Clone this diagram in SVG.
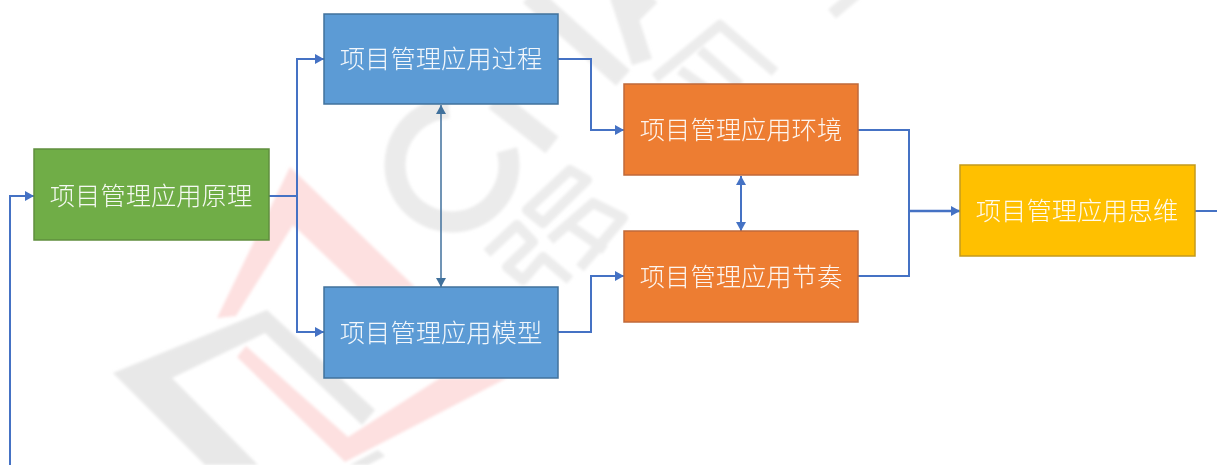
<svg xmlns="http://www.w3.org/2000/svg" width="1217" height="465" viewBox="0 0 1217 465">
<style>
.box{stroke-width:1.5}
.lbl{font-family:"Noto Sans CJK SC","Noto Sans CJK JP",sans-serif;font-size:25.3px;font-weight:300;fill:#fff;text-anchor:middle;dominant-baseline:central;opacity:.93}
.c{fill:none;stroke:#4472c4;stroke-width:2}
.gf{fill:#e8e8e8}
.rf{fill:#fde0e0}
.wg{fill:none;stroke:#ebebeb;stroke-width:21}
.wt{fill:none;stroke:#ececec;stroke-width:10;stroke-linejoin:round}
</style>
<defs>
<marker id="a" markerWidth="11" markerHeight="11" refX="9" refY="5" orient="auto-start-reverse" markerUnits="userSpaceOnUse"><path d="M0 0L9 5L0 10z" fill="#4472c4"/></marker>
<marker id="b" markerWidth="11" markerHeight="11" refX="9" refY="5" orient="auto-start-reverse" markerUnits="userSpaceOnUse"><path d="M0 0L9 5L0 10z" fill="#41719c"/></marker>
<filter id="s" x="-5%" y="-5%" width="110%" height="110%"><feGaussianBlur stdDeviation="1.4"/></filter>
<filter id="t" filterUnits="userSpaceOnUse" x="0" y="0" width="1217" height="465"><feGaussianBlur stdDeviation="0.45"/></filter>
</defs>
<g id="watermark" filter="url(#s)">
<polygon class="rf" points="290,167 217,318 236,316 293,225 358,287 415,287"/>
<polygon class="rf" points="237,357 246,346 348,437 440,378 507,378 345,462"/>
<polygon class="gf" points="113,373 267,310 375,410 362,425 265,333 172,378 258,465 205,465"/>
<polygon class="gf" points="378,450 385,456 368,465 350,465"/>
<path class="wg" d="M507 150A57 57 0 1 1 449 108"/>
<path class="wg" d="M530 -5L623 78M495 100L552 145"/>
<path class="wg" d="M620 -5L642 62M650 -5L625 20"/>
<path class="wt" d="M655 78L720 25L775 72M680 70L715 95M700 50L740 85"/>
<path class="wt" style="stroke-width:12" d="M832 14L856 -6"/>
<path class="wt" d="M527 210L570 170L587 180L543 223Z"/>
<path class="wt" d="M550 240L593 203L623 218L580 268M565 222L605 250"/>
<path class="wt" d="M487 253L517 225L533 242L507 267L523 280L543 257L570 280"/>
</g>
<g id="connectors" filter="url(#t)">
<path class="c" d="M10 465V196H34" marker-end="url(#a)"/>
<path class="c" d="M269 196H297V59H324" marker-end="url(#a)"/>
<path class="c" d="M297 196V332H324" marker-end="url(#a)"/>
<path class="c" d="M558 59H591V130H624" marker-end="url(#a)"/>
<path class="c" d="M558 332H591V276H624" marker-end="url(#a)"/>
<path class="c" d="M858 130H909V211"/>
<path class="c" d="M858 276H909V211"/>
<path class="c" style="stroke-width:2.5" d="M909 211H960" marker-end="url(#a)"/>
<path class="c" d="M1195 211H1217"/>
<path class="c" style="stroke:#41719c;stroke-width:1.5" d="M441 105V287" marker-start="url(#b)" marker-end="url(#b)"/>
<path class="c" d="M741 176V231" marker-start="url(#a)" marker-end="url(#a)"/>
</g>
<g id="n-yuanli" filter="url(#t)"><rect class="box" x="34" y="149" width="235" height="91" fill="#70ad47" stroke="#5f8f3e"/><text class="lbl" x="151" y="194">项目管理应用原理</text></g>
<g id="n-guocheng" filter="url(#t)"><rect class="box" x="324" y="14" width="234" height="90" fill="#5b9bd5" stroke="#41719c"/><text class="lbl" x="441" y="57">项目管理应用过程</text></g>
<g id="n-moxing" filter="url(#t)"><rect class="box" x="324" y="287" width="234" height="91" fill="#5b9bd5" stroke="#41719c"/><text class="lbl" x="441" y="331">项目管理应用模型</text></g>
<g id="n-huanjing" filter="url(#t)"><rect class="box" x="624" y="84" width="234" height="91" fill="#ed7d31" stroke="#c0693a"/><text class="lbl" x="741" y="128">项目管理应用环境</text></g>
<g id="n-jiezou" filter="url(#t)"><rect class="box" x="624" y="231" width="234" height="91" fill="#ed7d31" stroke="#c0693a"/><text class="lbl" x="741" y="275">项目管理应用节奏</text></g>
<g id="n-siwei" filter="url(#t)"><rect class="box" x="960" y="165" width="235" height="91" fill="#ffc000" stroke="#c49a1a"/><text class="lbl" x="1077" y="209">项目管理应用思维</text></g>
</svg>
